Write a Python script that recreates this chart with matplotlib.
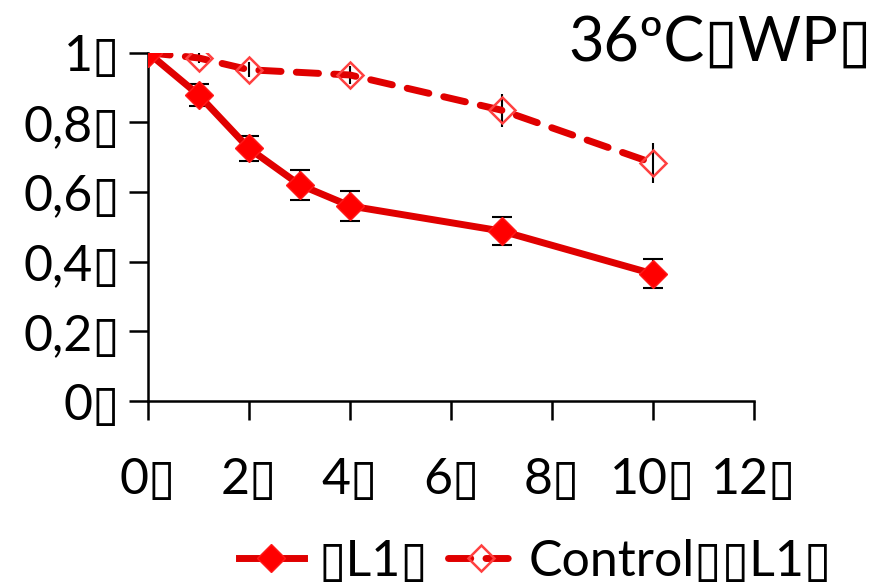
import numpy as np
import matplotlib
matplotlib.use("Agg")
import matplotlib.pyplot as plt

# -------------------------------
# DATA
# -------------------------------
BOX = "\u25af"  # stands in for the tofu box shown in the reference

days = [0, 1, 2, 3, 4, 7, 10]
l1 = [1.0, 0.879, 0.725, 0.621, 0.560, 0.488, 0.365]
l1_err = [0.0, 0.032, 0.036, 0.043, 0.043, 0.040, 0.042]

ctrl_days = [0, 1, 2, 4, 7, 10]
ctrl = [1.0, 0.985, 0.951, 0.936, 0.835, 0.683]
ctrl_err = [0.0, 0.015, 0.022, 0.025, 0.047, 0.058]

x_ticks = [0, 2, 4, 6, 8, 10, 12]
y_ticks = [0, 0.2, 0.4, 0.6, 0.8, 1.0]
y_labels = ["0", "0,2", "0,4", "0,6", "0,8", "1"]

title = "36ºC" + BOX + "WP" + BOX
lab_l1 = BOX + "L1" + BOX
lab_ctrl = "Control" + BOX + BOX + "L1" + BOX

# -------------------------------
# PLOT
# -------------------------------
plt.rcParams["font.family"] = ["Lato", "DejaVu Sans"]
FS = 36

fig = plt.figure(figsize=(8.76, 5.85), dpi=100)
ax = fig.add_axes([148 / 876, 1 - 401 / 585, (754 - 148) / 876, (401 - 52.7) / 585])

ax.errorbar(days, l1, yerr=l1_err, color="#e00000", lw=5, marker="D",
            ms=14, mfc="#ff0000", mec="#ff1a1a", ecolor="black",
            elinewidth=1.5, capsize=7, capthick=1.5, label=lab_l1, zorder=3)
ax.errorbar(ctrl_days, ctrl, yerr=ctrl_err, color="#e00000", lw=5,
            ls=(0, (3.2, 2.2)), dash_capstyle="round", marker="D", ms=13,
            mfc="none", mec="#ff4040", mew=1.8, ecolor="black",
            elinewidth=1.5, capsize=0, label=lab_ctrl, zorder=2)

ax.set_xlim(0, 12)
ax.set_ylim(0, 1)
ax.set_xticks(x_ticks)
ax.set_xticklabels([f"{t}{BOX}" for t in x_ticks])
ax.set_yticks(y_ticks)
ax.set_yticklabels([t + BOX for t in y_labels])
ax.tick_params(axis="x", direction="out", length=14, width=1.8, pad=26, labelsize=FS)
ax.tick_params(axis="y", direction="out", length=14, width=1.8, pad=6, labelsize=FS)
for s in ["top", "right"]:
    ax.spines[s].set_visible(False)
for s in ["left", "bottom"]:
    ax.spines[s].set_linewidth(1.8)

fig.text(0.995, 0.975, title, ha="right", va="top", fontsize=44)

h, l = ax.get_legend_handles_labels()
h = [hh[0] for hh in h]
fig.legend(h, l, loc="center", bbox_to_anchor=(0.611, 0.04), ncol=2,
           frameon=False, fontsize=FS, handlelength=1.3, handletextpad=0.3,
           columnspacing=0.4)

fig.savefig("out.png", dpi=100)
